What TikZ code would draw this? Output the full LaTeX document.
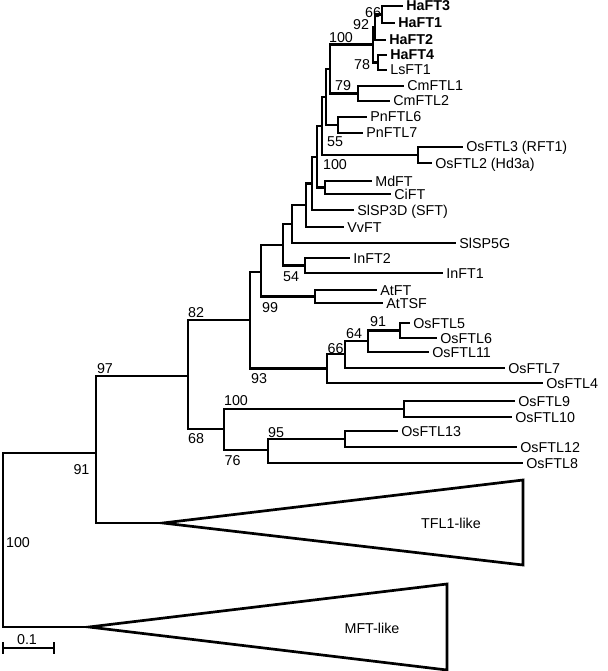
\documentclass[tikz,border=0pt]{standalone}
\usepackage{fontspec}
\setmainfont{Liberation Sans}
\begin{document}
\begin{tikzpicture}[x=1pt,y=-1pt,line width=2.7pt,
    leaf/.style={anchor=west,inner sep=2pt,text height=10pt,text depth=0pt,
        font=\fontsize{14.3}{16}\selectfont},
    boot/.style={inner sep=0pt,text height=10pt,text depth=0pt,
        font=\fontsize{14.3}{16}\selectfont}]
    \tikzstyle{haleaf}=[leaf,font=\fontsize{14.3}{16}\selectfont\bfseries]
    \useasboundingbox (0,0) rectangle (607,671);

    \coordinate (nroot) at (3,540);
    \coordinate (n91) at (96,453);
    \coordinate (tfl) at (163,523);
    \coordinate (tfltop) at (523,480);
    \coordinate (tflbot) at (523,565);
    \coordinate (mft) at (89,627);
    \coordinate (mfttop) at (447,584);
    \coordinate (mftbot) at (447,670);
    \coordinate (n97) at (188,376);
    \coordinate (n82) at (250,320);
    \coordinate (n99) at (261,272);
    \coordinate (nA) at (283,245);
    \coordinate (nB) at (292,224);
    \coordinate (nC) at (306,205);
    \coordinate (nD) at (312,183.5);
    \coordinate (nE) at (317,157);
    \coordinate (nF) at (322,126);
    \coordinate (nG) at (326,97);
    \coordinate (nH) at (330,69);
    \coordinate (nHa) at (373,44.5);
    \coordinate (n92) at (375,27);
    \coordinate (n66) at (382,14.5);
    \coordinate (n78) at (378,62.5);
    \coordinate (nCm) at (358,93.5);
    \coordinate (nPn) at (338,125);
    \coordinate (nOs) at (418,155);
    \coordinate (nMd) at (325,187.5);
    \coordinate (n54) at (305,265.5);
    \coordinate (nAt) at (315,296.5);
    \coordinate (n93) at (327,368.5);
    \coordinate (n66b) at (345,354);
    \coordinate (n64) at (368,341);
    \coordinate (n91b) at (400,330.5);
    \coordinate (n68) at (224,429);
    \coordinate (n100b) at (404,409);
    \coordinate (n76) at (268,450);
    \coordinate (n95) at (345,439);

    \node[haleaf] (haft3) at (403,6) {HaFT3};
    \node[haleaf] (haft1) at (395,23) {HaFT1};
    \node[haleaf] (haft2) at (386,40) {HaFT2};
    \node[haleaf] (haft4) at (387,55) {HaFT4};
    \node[leaf] (lsft1) at (387,70) {LsFT1};
    \node[leaf] (cmftl1) at (404,86) {CmFTL1};
    \node[leaf] (cmftl2) at (390,101) {CmFTL2};
    \node[leaf] (pnftl6) at (367,117) {PnFTL6};
    \node[leaf] (pnftl7) at (363,133) {PnFTL7};
    \node[leaf] (osftl3) at (463,147) {OsFTL3 (RFT1)};
    \node[leaf] (osftl2) at (432,163) {OsFTL2 (Hd3a)};
    \node[leaf] (mdft) at (372,181) {MdFT};
    \node[leaf] (cift) at (391,194) {CiFT};
    \node[leaf] (slsp3d) at (354,210) {SlSP3D (SFT)};
    \node[leaf] (vvft) at (344,227) {VvFT};
    \node[leaf] (slsp5g) at (456,243) {SlSP5G};
    \node[leaf] (inft2) at (350,258) {InFT2};
    \node[leaf] (inft1) at (443,273) {InFT1};
    \node[leaf] (atft) at (377,290) {AtFT};
    \node[leaf] (attsf) at (383,303) {AtTSF};
    \node[leaf] (osftl5) at (410,323) {OsFTL5};
    \node[leaf] (osftl6) at (437,338) {OsFTL6};
    \node[leaf] (osftl11) at (429,352) {OsFTL11};
    \node[leaf] (osftl7) at (505,368) {OsFTL7};
    \node[leaf] (osftl4) at (543,383) {OsFTL4};
    \node[leaf] (osftl9) at (515,401) {OsFTL9};
    \node[leaf] (osftl10) at (512,417) {OsFTL10};
    \node[leaf] (osftl13) at (398,431) {OsFTL13};
    \node[leaf] (osftl12) at (517,447) {OsFTL12};
    \node[leaf] (osftl8) at (523,463) {OsFTL8};

    \foreach \p/\c in {nroot/n91,nroot/mft,n91/n97,n91/tfl,n97/n82,n97/n68,
        n82/n99,n82/n93,n99/nA,n99/nAt,nA/nB,nA/n54,nB/nC,nB/slsp5g,
        nC/nD,nC/vvft,nD/nE,nD/slsp3d,nE/nF,nE/nMd,nF/nG,nF/nOs,
        nG/nH,nG/nPn,nH/nHa,nH/nCm,nHa/n92,nHa/n78,n92/n66,n92/haft2,
        n66/haft3,n66/haft1,n78/haft4,n78/lsft1,nCm/cmftl1,nCm/cmftl2,
        nPn/pnftl6,nPn/pnftl7,nOs/osftl3,nOs/osftl2,nMd/mdft,nMd/cift,
        n54/inft2,n54/inft1,nAt/atft,nAt/attsf,n93/n66b,n93/osftl4,
        n66b/n64,n66b/osftl7,n64/n91b,n64/osftl11,n91b/osftl5,n91b/osftl6,
        n68/n100b,n68/n76,n100b/osftl9,n100b/osftl10,n76/n95,n76/osftl8,
        n95/osftl13,n95/osftl12}
        \draw (\p) |- (\c);

    \draw (tfl) -- (tfltop) -- (tflbot) -- cycle;
    \draw (mft) -- (mfttop) -- (mftbot) -- cycle;
    \node[boot] (tfllabel) at (451,523) {TFL1-like};
    \node[boot] (mftlabel) at (372,628) {MFT-like};

    \node[boot] (b66a) at (373,12.5) {66};
    \node[boot] (b92) at (361,24.5) {92};
    \node[boot] (b100a) at (341,38) {100};
    \node[boot] (b78) at (362,65) {78};
    \node[boot] (b79) at (343,86) {79};
    \node[boot] (b55) at (335,142) {55};
    \node[boot] (b100c) at (335,165) {100};
    \node[boot] (b54) at (291,276) {54};
    \node[boot] (b99) at (270,307) {99};
    \node[boot] (b82) at (196,312) {82};
    \node[boot] (b97) at (105,368) {97};
    \node[boot] (b93) at (259,378) {93};
    \node[boot] (b66b) at (335.5,348) {66};
    \node[boot] (b64) at (354,333.5) {64};
    \node[boot] (b91b) at (378,321) {91};
    \node[boot] (b100b) at (236,400.5) {100};
    \node[boot] (b95) at (276,432) {95};
    \node[boot] (b68) at (196,438) {68};
    \node[boot] (b76) at (232.5,460) {76};
    \node[boot] (b91) at (81.5,469) {91};
    \node[boot] (b100r) at (18,542.5) {100};

    \coordinate (bar0) at (3,648);
    \coordinate (bar1) at (54,648);
    \draw (bar0) -- (bar1);
    \draw ([yshift=6pt]bar0) -- ([yshift=-6pt]bar0);
    \draw ([yshift=6pt]bar1) -- ([yshift=-6pt]bar1);
    \node[boot] (barlabel) at (27,639) {0.1};

  \end{tikzpicture}
\end{document}
